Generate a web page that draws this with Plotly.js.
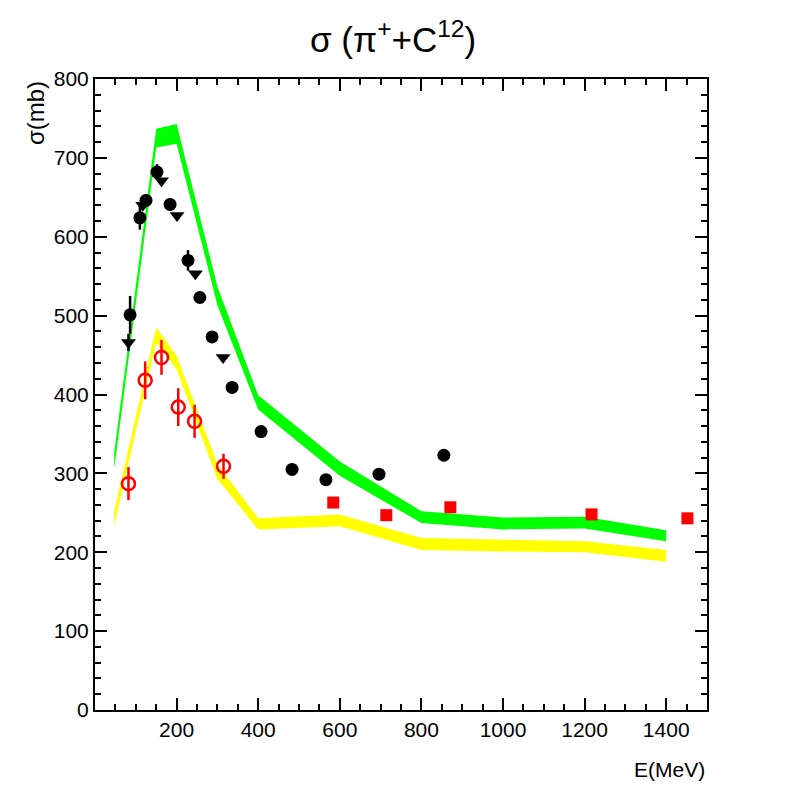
<!DOCTYPE html>
<html>
<head>
<meta charset="utf-8">
<script src="https://cdn.plot.ly/plotly-3.0.1.min.js"></script>
<style>html,body{margin:0;padding:0;background:#fff;}</style>
</head>
<body>
<div id="chart" style="width:789px;height:789px;"></div>
<script>
// Green model band (upper / lower edges)
const greenE  = [47, 150, 200, 300, 400, 600, 800, 1000, 1200, 1400];
const greenUp = [326, 737, 743, 537, 399, 315, 252, 244, 245, 228];
const greenLo = [306, 713, 718, 513, 381, 297, 237, 229, 230, 214];

// Yellow model band
const yellowE  = [47, 150, 200, 300, 400, 600, 800, 1000, 1200, 1400];
const yellowUp = [252, 485, 449, 312, 243, 248, 218, 216, 214, 203];
const yellowLo = [234, 466, 432, 293, 229, 233, 203, 201, 200, 188];

// Black circles (data)
const blackCircE   = [86, 110, 125, 152, 184, 228, 257, 287, 336, 407, 483, 566, 696, 855];
const blackCircS   = [501, 624, 646, 682, 641, 570, 523, 473, 409, 353, 305, 292, 299, 323];
const blackCircErr = [24, 15, 8, 10, 8, 13, 0, 0, 0, 0, 0, 0, 0, 0];

// Black down-triangles (data)
const blackTriE   = [82, 117, 163, 201, 246, 314];
const blackTriS   = [466, 640, 671, 627, 553, 447];
const blackTriErr = [11, 0, 0, 0, 0, 0];

// Red open circles (data)
const redOpenE   = [82, 123, 163, 204, 244, 315];
const redOpenS   = [287, 418, 447, 384, 366, 309];
const redOpenErr = [21, 24, 22, 24, 21, 16];

// Red squares (data)
const redSqE = [584, 714, 871, 1217, 1452];
const redSqS = [263, 247, 257, 248, 243];

// Axis ticks
const xTicks = [200, 400, 600, 800, 1000, 1200, 1400];
const yTicks = [0, 100, 200, 300, 400, 500, 600, 700, 800];

function band(E, up, lo, color) {
  return {
    type: 'scatter', mode: 'lines',
    x: E.concat(E.slice().reverse()),
    y: up.concat(lo.slice().reverse()),
    fill: 'toself', fillcolor: color,
    line: {width: 0, color: color},
    hoverinfo: 'skip', showlegend: false
  };
}

const traces = [
  band(greenE, greenUp, greenLo, '#00ff00'),
  band(yellowE, yellowUp, yellowLo, '#ffff00'),
  {
    type: 'scatter', mode: 'markers', x: blackTriE, y: blackTriS,
    marker: {symbol: 'triangle-down', size: 13, color: 'black'},
    error_y: {type: 'data', array: blackTriErr, visible: true, color: 'black', thickness: 2.5, width: 0},
    showlegend: false
  },
  {
    type: 'scatter', mode: 'markers', x: blackCircE, y: blackCircS,
    marker: {symbol: 'circle', size: 13, color: 'black'},
    error_y: {type: 'data', array: blackCircErr, visible: true, color: 'black', thickness: 2.5, width: 0},
    showlegend: false
  },
  {
    type: 'scatter', mode: 'markers', x: redOpenE, y: redOpenS,
    marker: {symbol: 'circle-open', size: 13, color: '#ff0000', line: {width: 2.5, color: '#ff0000'}},
    error_y: {type: 'data', array: redOpenErr, visible: true, color: '#ff0000', thickness: 2.5, width: 0},
    showlegend: false
  },
  {
    type: 'scatter', mode: 'markers', x: redSqE, y: redSqS,
    marker: {symbol: 'square', size: 12, color: '#ff0000'},
    showlegend: false
  }
];

const font = 'Liberation Sans, Arial, Helvetica, sans-serif';

const layout = {
  width: 789, height: 789,
  margin: {l: 95, r: 82, t: 79, b: 79},
  paper_bgcolor: 'white', plot_bgcolor: 'white',
  font: {family: font, color: 'black', size: 21},
  title: {
    text: 'σ (π<sup>+</sup>+C<sup>12</sup>)',
    font: {family: font, size: 35, color: 'black'},
    xref: 'paper', x: 0.487, xanchor: 'center',
    yref: 'container', y: 0.95, yanchor: 'middle'
  },
  xaxis: {
    range: [0, 1500], tickmode: 'array', tickvals: xTicks,
    ticks: 'inside', ticklen: 12, tickwidth: 2, tickcolor: 'black',
    showline: true, linewidth: 2, linecolor: 'black', mirror: 'allticks',
    showgrid: false, zeroline: false,
    tickfont: {family: font, size: 21, color: 'black'},
    minor: {ticks: 'inside', ticklen: 6, tickwidth: 2, tickcolor: 'black', dtick: 50, tick0: 0, showgrid: false}
  },
  yaxis: {
    range: [0, 800], tickmode: 'array', tickvals: yTicks,
    ticks: 'inside', ticklen: 12, tickwidth: 2, tickcolor: 'black',
    showline: true, linewidth: 2, linecolor: 'black', mirror: 'allticks',
    showgrid: false, zeroline: false,
    tickfont: {family: font, size: 21, color: 'black'},
    minor: {ticks: 'inside', ticklen: 6, tickwidth: 2, tickcolor: 'black', dtick: 20, tick0: 0, showgrid: false}
  },
  annotations: [
    {
      text: 'σ(mb)', textangle: -90, showarrow: false,
      xref: 'paper', yref: 'paper', x: -0.098, y: 1.0,
      xanchor: 'center', yanchor: 'top',
      font: {family: font, size: 24, color: 'black'}
    },
    {
      text: 'E(MeV)', showarrow: false,
      xref: 'paper', yref: 'paper', x: 1.0, y: -0.095,
      xanchor: 'right', yanchor: 'middle',
      font: {family: font, size: 21, color: 'black'}
    }
  ]
};

Plotly.newPlot('chart', traces, layout, {displayModeBar: false, staticPlot: true});
</script>
</body>
</html>
